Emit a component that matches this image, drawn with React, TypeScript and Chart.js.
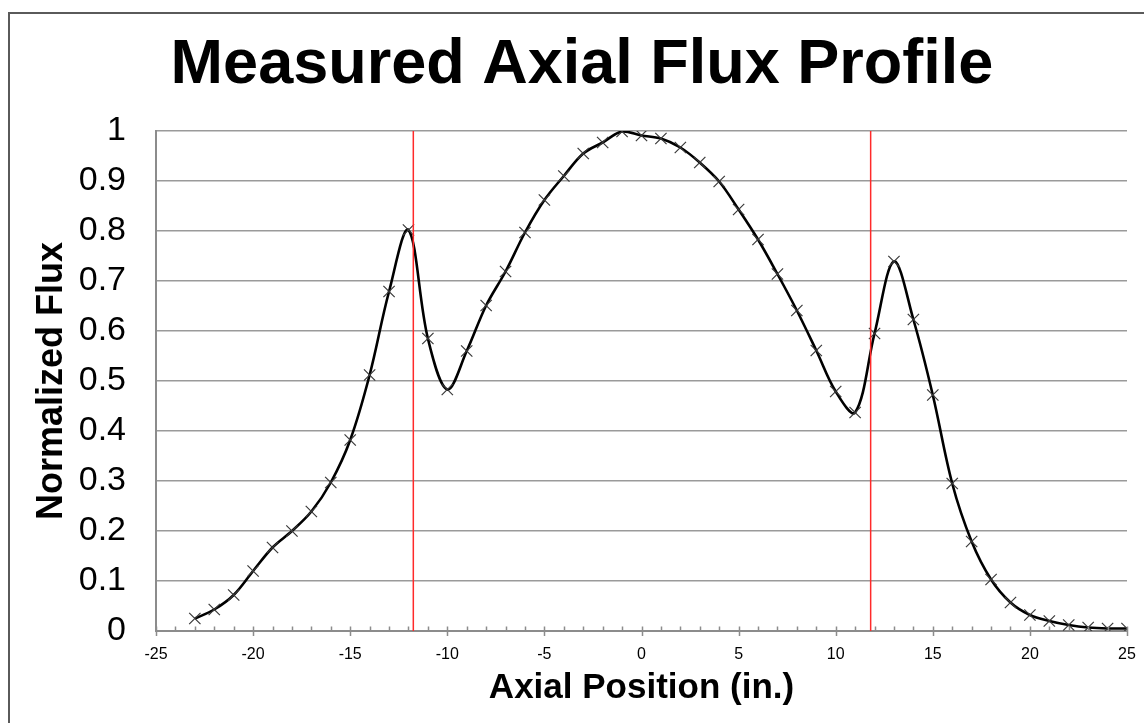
import React, { useEffect, useRef } from "react";
import { Chart, registerables } from "chart.js";

Chart.register(...registerables);

const chartTitle = "Measured Axial Flux Profile";
const xAxisTitle = "Axial Position (in.)";
const yAxisTitle = "Normalized Flux";

const positions = [
  -23, -22, -21, -20, -19, -18, -17, -16, -15, -14, -13, -12, -11, -10, -9, -8, -7, -6, -5, -4, -3, -2, -1,
  0, 1, 2, 3, 4, 5, 6, 7, 8, 9, 10, 11, 12, 13, 14, 15, 16, 17, 18, 19, 20, 21, 22, 23, 24, 25,
];
const flux = [
  0.025, 0.043, 0.072, 0.12, 0.167, 0.2, 0.239, 0.297, 0.382, 0.512, 0.679, 0.802, 0.585, 0.483, 0.56, 0.651,
  0.719, 0.797, 0.862, 0.91, 0.955, 0.977, 0.999, 0.991, 0.985, 0.967, 0.937, 0.899, 0.843, 0.783, 0.714,
  0.641, 0.561, 0.479, 0.437, 0.595, 0.739, 0.623, 0.472, 0.295, 0.179, 0.103, 0.057, 0.032, 0.02, 0.012,
  0.007, 0.005, 0.005,
];
const markerLinesX = [-11.75, 11.8];
const markerLinesY = [0, 1];

const xMin = -25;
const xMax = 25;
const xStep = 5;
const yMin = 0;
const yMax = 1;
const yStep = 0.1;

const FONT = "'Liberation Sans', Arial, sans-serif";

export default function App() {
  const ref = useRef<HTMLCanvasElement | null>(null);

  useEffect(() => {
    document.body.style.margin = "0";
    const canvas = ref.current;
    if (!canvas) return;

    const decorPlugin = {
      id: "decor",
      beforeDraw(chart: any) {
        const ctx = chart.ctx;
        ctx.save();
        ctx.fillStyle = "#ffffff";
        ctx.fillRect(0, 0, chart.width, chart.height);
        ctx.strokeStyle = "#5a5a5a";
        ctx.lineWidth = 2;
        ctx.beginPath();
        ctx.moveTo(9, chart.height + 5);
        ctx.lineTo(9, 13);
        ctx.lineTo(chart.width + 5, 13);
        ctx.stroke();
        ctx.restore();
      },
      afterDraw(chart: any) {
        const ctx = chart.ctx;
        ctx.save();
        ctx.fillStyle = "#000000";
        ctx.font = `bold 63px ${FONT}`;
        ctx.textAlign = "center";
        ctx.textBaseline = "alphabetic";
        ctx.fillText(chartTitle, 582, 83);
        // x-axis tick marks: major ticks cross the axis, minor ticks inside
        const xs = chart.scales.x;
        const bottom = chart.chartArea.bottom;
        ctx.strokeStyle = "#8c8c8c";
        ctx.lineWidth = 1.5;
        ctx.beginPath();
        for (let v = xMin; v <= xMax; v += 1) {
          const px = Math.round(xs.getPixelForValue(v)) + 0.5;
          const major = v % xStep === 0;
          ctx.moveTo(px, bottom - 4.5);
          ctx.lineTo(px, major ? bottom + 5 : bottom);
        }
        ctx.stroke();
        ctx.restore();
      },
    };

    const chart = new Chart(canvas, {
      type: "line",
      data: {
        datasets: [
          ...markerLinesX.map((mx) => ({
            label: "marker " + mx,
            data: markerLinesY.map((my) => ({ x: mx, y: my })),
            borderColor: "#ff2a2a",
            borderWidth: 1.5,
            pointRadius: 0,
            tension: 0,
            order: 0,
          })),
          {
            label: "Flux",
            data: positions.map((p, i) => ({ x: p, y: flux[i] })),
            borderColor: "#000000",
            borderWidth: 2.6,
            tension: 0.35,
            pointStyle: "crossRot",
            pointRadius: 8,
            pointBorderColor: "#3a3a3a",
            pointBorderWidth: 1.2,
            pointBackgroundColor: "rgba(0,0,0,0)",
            order: 1,
          },
        ],
      },
      options: {
        animation: false,
        responsive: false,
        devicePixelRatio: 1,
        layout: { padding: { top: 131, left: 0, right: 17, bottom: 0 } },
        plugins: {
          legend: { display: false },
          title: { display: false },
          tooltip: { enabled: false },
        },
        scales: {
          x: {
            type: "linear",
            min: xMin,
            max: xMax,
            afterFit: (s: any) => {
              s.height = 92;
              s.paddingLeft = 0;
              s.paddingRight = 0;
            },
            ticks: {
              stepSize: xStep,
              color: "#000000",
              padding: 14,
              font: { family: FONT, size: 16 },
              maxRotation: 0,
            },
            grid: { display: false, drawTicks: false },
            border: { display: true, color: "#8c8c8c", width: 2 },
            title: {
              display: true,
              text: xAxisTitle,
              color: "#000000",
              font: { family: FONT, size: 35, weight: "bold", lineHeight: 1 },
              padding: { top: 0, bottom: 17.3 },
            },
          },
          y: {
            type: "linear",
            min: yMin,
            max: yMax,
            afterFit: (s: any) => {
              s.width = 156;
            },
            ticks: {
              stepSize: yStep,
              color: "#000000",
              padding: 30,
              font: { family: FONT, size: 34 },
              callback: (v: any) => String(Number(Number(v).toFixed(1))),
            },
            grid: { display: true, drawTicks: false, color: "#9a9a9a", lineWidth: 1.5 },
            border: { display: true, color: "#8c8c8c", width: 2 },
            title: {
              display: true,
              text: yAxisTitle,
              color: "#000000",
              font: { family: FONT, size: 36, weight: "bold", lineHeight: 1 },
              padding: { top: 34.5, bottom: 0 },
            },
          },
        },
      },
      plugins: [decorPlugin],
    } as any);

    return () => chart.destroy();
  }, []);

  return (
    <div style={{ width: 1144, height: 723, position: "relative", overflow: "hidden" }}>
      <canvas ref={ref} width={1144} height={723} style={{ display: "block", width: 1144, height: 723 }} />
    </div>
  );
}
